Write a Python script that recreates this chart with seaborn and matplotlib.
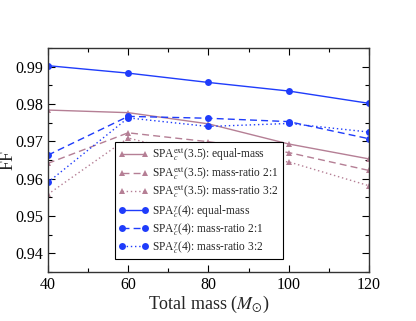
import matplotlib
matplotlib.use("Agg")
import matplotlib.pyplot as plt
import seaborn as sns
import numpy as np
from matplotlib.ticker import MultipleLocator

masses = [40, 60, 80, 100, 120]

ext_equal = [0.9784, 0.9777, 0.9747, 0.9693, 0.9653]
ext_21 = [0.9641, 0.9723, 0.9699, 0.9670, 0.9622]
ext_32 = [0.9558, 0.9709, 0.9656, 0.9645, 0.9581]
g_equal = [0.9903, 0.9883, 0.9858, 0.9835, 0.9802]
g_21 = [0.9663, 0.9767, 0.9762, 0.9753, 0.9707]
g_32 = [0.9590, 0.9763, 0.9740, 0.9748, 0.9725]

labels = [
    r"SPA$_c^{\rm ext}$(3.5): equal-mass",
    r"SPA$_c^{\rm ext}$(3.5): mass-ratio 2:1",
    r"SPA$_c^{\rm ext}$(3.5): mass-ratio 3:2",
    r"SPA$_c^{\gamma}$(4): equal-mass",
    r"SPA$_c^{\gamma}$(4): mass-ratio 2:1",
    r"SPA$_c^{\gamma}$(4): mass-ratio 3:2",
]

sns.set_theme(style="ticks")
plt.rcParams["font.family"] = ["Liberation Serif", "DejaVu Serif"]
plt.rcParams["mathtext.fontset"] = "stix"

mauve = "#b57f95"
blue = "#1f3cfb"

fig = plt.figure(figsize=(4.16, 3.21), dpi=100)
ax = fig.add_axes([0.115, 0.153, 0.772, 0.697])

series = [
    (ext_equal, mauve, "-", "^"),
    (ext_21, mauve, (0, (5, 3)), "^"),
    (ext_32, mauve, (0, (1, 2)), "^"),
    (g_equal, blue, "-", "o"),
    (g_21, blue, (0, (5, 3)), "o"),
    (g_32, blue, (0, (1, 2)), "o"),
]
for (vals, c, ls, mk), lab in zip(series, labels):
    sns.lineplot(x=masses, y=vals, ax=ax, color=c, linestyle=ls, marker=mk,
                 markersize=5, markeredgewidth=0, linewidth=1.0, label=lab)

ax.set_xlim(40, 120)
ax.set_ylim(0.935, 0.995)
ax.xaxis.set_minor_locator(MultipleLocator(10))
ax.yaxis.set_minor_locator(MultipleLocator(0.005))
ax.tick_params(which="both", direction="in", top=True, right=True, labelsize=11.5,
               colors="black")
ax.tick_params(which="major", length=5, width=0.8)
ax.tick_params(which="minor", length=3, width=0.8)
ax.set_xticks(masses)
ax.set_xticklabels([str(m) for m in masses])
ax.set_yticks([0.94, 0.95, 0.96, 0.97, 0.98, 0.99])
ax.set_yticklabels(["0.94", "0.95", "0.96", "0.97", "0.98", "0.99"])
for s in ax.spines.values():
    s.set_color("#333333")
    s.set_linewidth(1.0)
ax.set_xlabel(r"Total mass ($M_{\odot}$)", fontsize=13, labelpad=1)
ax.set_ylabel("FF", fontsize=13, labelpad=-1)

leg = ax.legend(loc="lower left", bbox_to_anchor=(0.19, 0.03), fontsize=8.3,
                frameon=True, fancybox=False, edgecolor="black", framealpha=1,
                numpoints=2, handlelength=2.6, borderpad=0.35, labelspacing=0.2,
                handletextpad=0.3)
leg.get_frame().set_linewidth(0.8)

fig.savefig("out.png", dpi=100)
